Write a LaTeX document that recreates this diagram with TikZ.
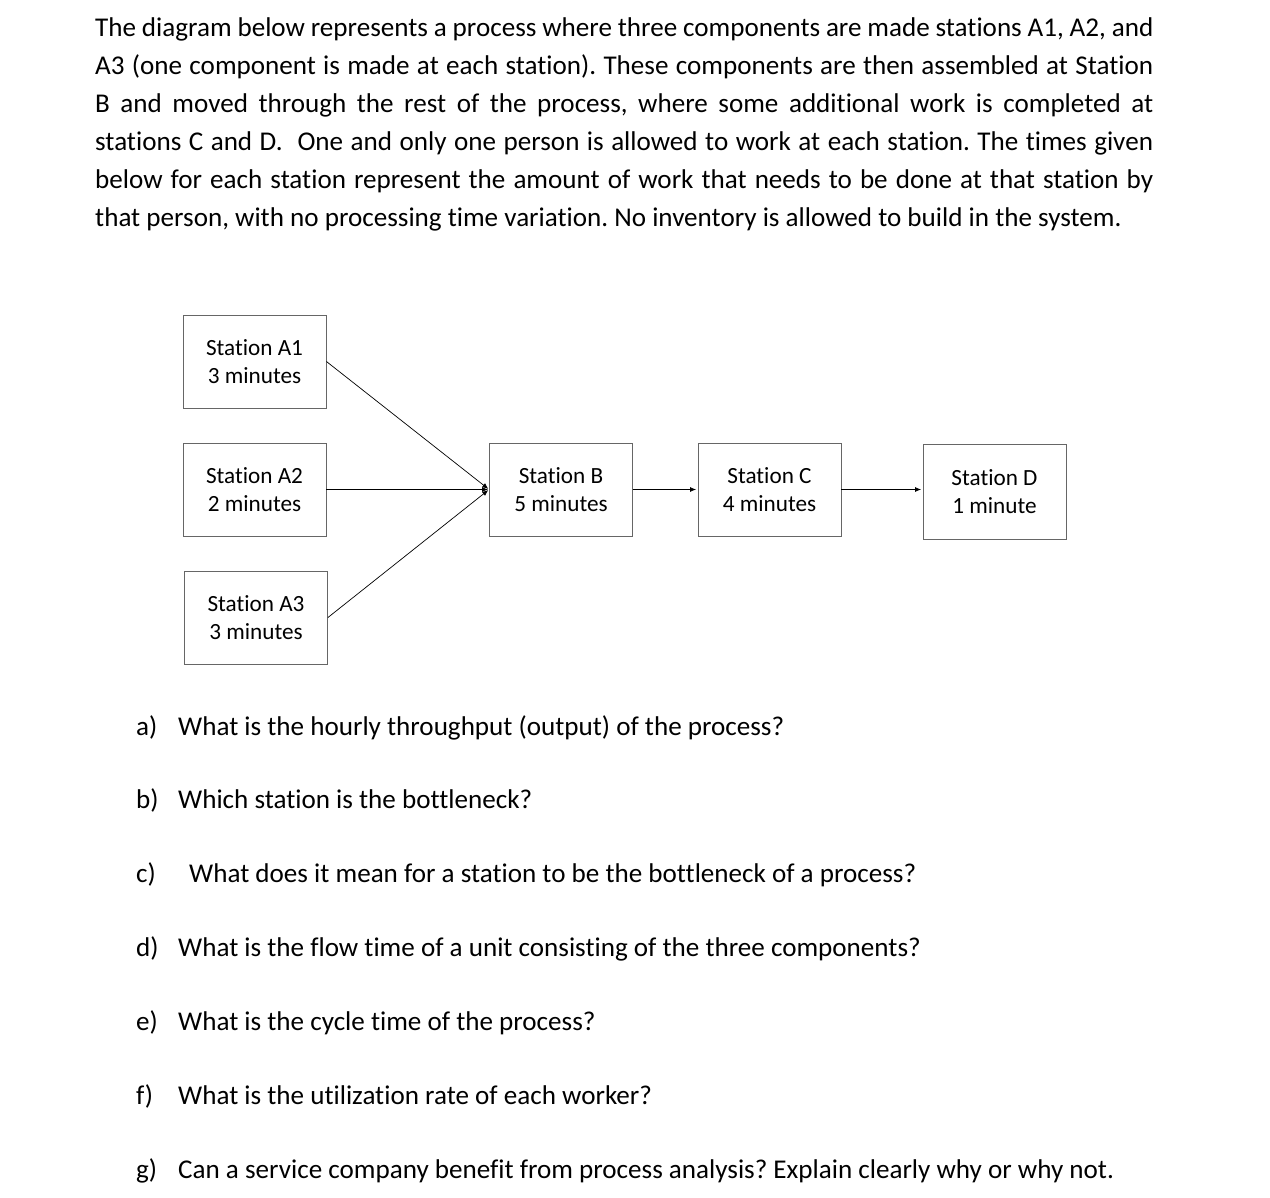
\documentclass[tikz,border=0pt]{standalone}
\usepackage{fontspec}
\setmainfont{Carlito}[Ligatures=NoCommon]
\usetikzlibrary{arrows.meta}
\frenchspacing

\begin{document}
\begin{tikzpicture}[
    x = 1pt,
    y = -1pt,
    >={Latex[length=6pt,width=5pt]},
    line/.style = {
      draw = black,
      line width = 0.7pt
    },
    station/.style = {
      draw = black!60,
      line width = 0.9pt,
      rectangle,
      align = center,
      minimum width = 143pt,
      minimum height = 93pt,
      inner sep = 0pt,
      font = \fontsize{23.2}{28}\selectfont
    },
    para/.style = {
      anchor = base west,
      inner sep = 0pt,
      font = \fontsize{27.1}{38}\selectfont
    }
  ]
  \useasboundingbox (0,0) rectangle (1270,1198);

  \node[para] (p1) at (95,37) {\makebox[1058pt][s]{The diagram below represents a process where three components are made stations A1, A2, and}};
  \node[para] (p2) at (95,75) {\makebox[1058pt][s]{A3 (one component is made at each station). These components are then assembled at Station}};
  \node[para] (p3) at (95,113) {\makebox[1058pt][s]{B and moved through the rest of the process, where some additional work is completed at}};
  \node[para] (p4) at (95,151) {\makebox[1058pt][s]{stations C and D.\ \ One and only one person is allowed to work at each station. The times given}};
  \node[para] (p5) at (95,189) {\makebox[1058pt][s]{below for each station represent the amount of work that needs to be done at that station by}};
  \node[para] (p6) at (95,227) {that person, with no processing time variation. No inventory is allowed to build in the system.};

  \node[station] (a1) at (254.5,361.5) {Station A1\\3 minutes};
  \node[station] (a2) at (254.5,489.5) {Station A2\\2 minutes};
  \node[station] (a3) at (256,617.5) {Station A3\\3 minutes};
  \node[station] (b) at (561,489.5) {Station B\\5 minutes};
  \node[station] (c) at (769.5,489.5) {Station C\\4 minutes};
  \node[station, minimum height=95pt] (d) at (994.5,491.5) {Station D\\1 minute};

  \draw[line, ->, shorten >=1pt] (a1.east) -- (b.west);
  \draw[line, ->, shorten >=1pt] (a2.east) -- (b.west);
  \draw[line, ->, shorten >=1pt] (a3.east) -- (b.west);
  \draw[line, ->, shorten >=1.5pt] (b.east) -- (c.west);
  \draw[line, ->, shorten >=1.5pt] (c.east) -- (c.east -| d.west);

  \node[para] (qa) at (136,735) {\makebox[42pt][l]{a)}What is the hourly throughput (output) of the process?};
  \node[para] (qb) at (136,808) {\makebox[42pt][l]{b)}Which station is the bottleneck?};
  \node[para] (qc) at (136,882) {\makebox[53pt][l]{c)}What does it mean for a station to be the bottleneck of a process?};
  \node[para] (qd) at (136,956) {\makebox[42pt][l]{d)}What is the flow time of a unit consisting of the three components?};
  \node[para] (qe) at (136,1030) {\makebox[42pt][l]{e)}What is the cycle time of the process?};
  \node[para] (qf) at (136,1104) {\makebox[42pt][l]{f)}What is the utilization rate of each worker?};
  \node[para] (qg) at (136,1178) {\makebox[42pt][l]{g)}Can a service company benefit from process analysis? Explain clearly why or why not.};
\end{tikzpicture}
\end{document}
